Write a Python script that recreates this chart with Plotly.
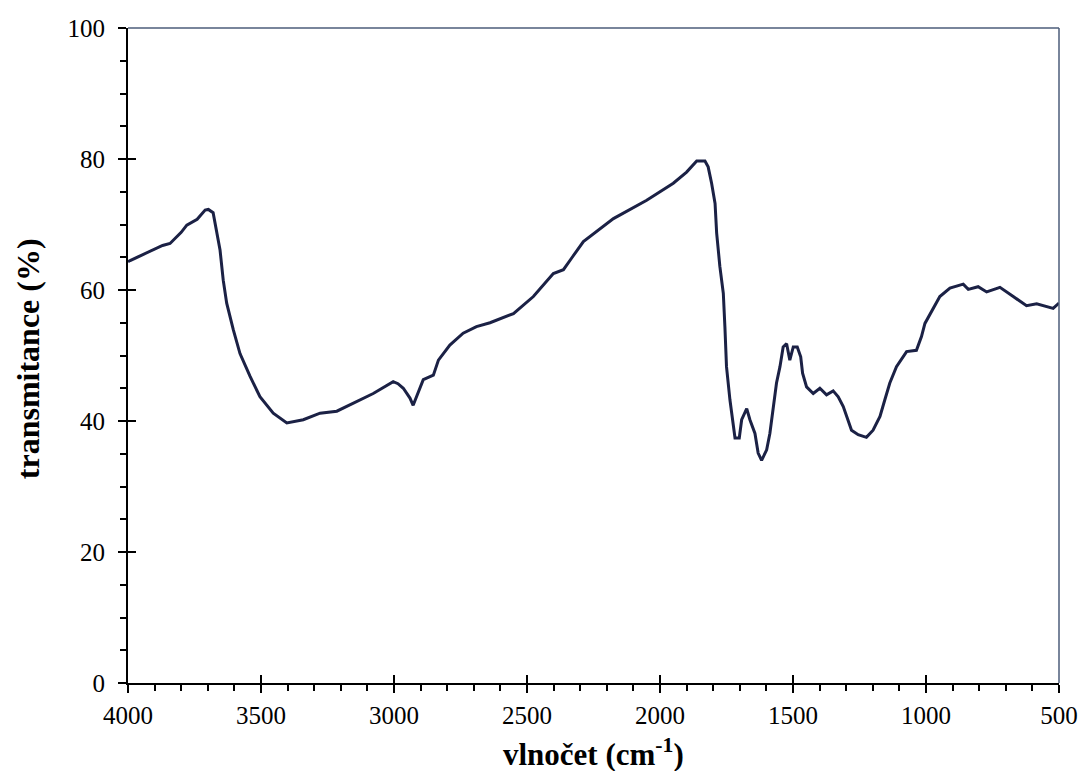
import plotly.graph_objects as go

# IR spectrum
wavenumber = [4000, 3992, 3950, 3905, 3870, 3842, 3800, 3779, 3740, 3710, 3698, 3680,
              3667, 3654, 3642, 3629, 3604, 3579, 3541, 3504, 3454, 3403, 3341, 3278,
              3215, 3153, 3078, 3003, 2985, 2965, 2940, 2928, 2909, 2890, 2852, 2833,
              2790, 2740, 2690, 2639, 2551, 2476, 2401, 2363, 2330, 2288, 2175, 2050,
              1950, 1900, 1862, 1831, 1819, 1806, 1793, 1787, 1775, 1762, 1756, 1750,
              1737, 1725, 1718, 1702, 1693, 1674, 1662, 1643, 1631, 1618, 1599, 1587,
              1574, 1562, 1549, 1537, 1524, 1512, 1499, 1484, 1471, 1464, 1449, 1424,
              1399, 1374, 1349, 1330, 1311, 1299, 1280, 1255, 1224, 1199, 1173, 1155,
              1136, 1111, 1073, 1036, 1017, 1004, 973, 948, 910, 860, 841, 804,
              772, 722, 672, 622, 584, 522, 500]
transmittance = [64.3, 64.5, 65.3, 66.1, 66.8, 67.1, 68.8, 69.9, 70.8, 72.2, 72.3, 71.8,
                 69.2, 66.1, 61.5, 58.0, 53.9, 50.3, 46.8, 43.7, 41.2, 39.7, 40.2, 41.2,
                 41.5, 42.7, 44.2, 46.0, 45.7, 45.0, 43.5, 42.4, 44.5, 46.3, 47.0, 49.3,
                 51.6, 53.4, 54.4, 55.0, 56.4, 59.0, 62.5, 63.1, 65.0, 67.4, 70.9, 73.7,
                 76.3, 78.0, 79.7, 79.7, 78.8, 76.3, 73.2, 68.7, 63.6, 59.5, 54.4, 48.3,
                 43.2, 39.6, 37.4, 37.4, 40.2, 41.9, 40.2, 38.1, 35.1, 34.0, 35.6, 38.1,
                 42.2, 45.8, 48.3, 51.3, 51.8, 49.3, 51.3, 51.3, 49.8, 47.3, 45.2, 44.2,
                 45.0, 44.0, 44.6, 43.7, 42.2, 40.7, 38.6, 37.9, 37.5, 38.6, 40.7, 43.2,
                 45.8, 48.3, 50.6, 50.8, 52.9, 54.9, 57.2, 59.0, 60.3, 60.9, 60.1, 60.5,
                 59.7, 60.4, 59.0, 57.6, 57.9, 57.2, 58.0]

x_ticks = [4000, 3500, 3000, 2500, 2000, 1500, 1000, 500]
y_ticks = [0, 20, 40, 60, 80, 100]

serif = "Liberation Serif, Times New Roman, serif"

fig = go.Figure()
fig.add_trace(go.Scatter(
    x=wavenumber, y=transmittance, mode='lines',
    line=dict(color='#1b2145', width=3),
    showlegend=False, hoverinfo='skip'
))

# invisible trace on the overlay axes so the inward half of major ticks shows
fig.add_trace(go.Scatter(x=[4000], y=[0], xaxis='x2', yaxis='y2', mode='markers',
                         marker=dict(opacity=0), showlegend=False, hoverinfo='skip'))

axis_common = dict(showgrid=False, zeroline=False, showline=True, linecolor='black',
                   linewidth=2, tickcolor='black', tickwidth=2, automargin=False,
                   tickfont=dict(family=serif, size=25, color='black'))

fig.update_layout(
    width=1082, height=771,
    margin=dict(l=128, r=23, t=28, b=88),
    paper_bgcolor='white', plot_bgcolor='white',
    xaxis=dict(range=[4000, 500], tickvals=x_ticks, ticks='outside', ticklen=8,
               ticklabelstandoff=1,
               minor=dict(dtick=100, ticks='outside', ticklen=6, tickcolor='black', tickwidth=2),
               **axis_common),
    yaxis=dict(range=[0, 100], tickvals=y_ticks, ticks='outside', ticklen=8,
               ticklabelstandoff=8,
               minor=dict(dtick=5, ticks='outside', ticklen=6, tickcolor='black', tickwidth=2),
               **axis_common),
    xaxis2=dict(range=[4000, 500], tickvals=x_ticks, ticks='inside', ticklen=8,
                tickcolor='black', tickwidth=2, showticklabels=False, showgrid=False,
                zeroline=False, overlaying='x', anchor='y2'),
    yaxis2=dict(range=[0, 100], tickvals=y_ticks, ticks='inside', ticklen=8,
                tickcolor='black', tickwidth=2, showticklabels=False, showgrid=False,
                zeroline=False, overlaying='y', anchor='x2'),
)

# axis titles
fig.add_annotation(text='<b>vlnočet (cm<sup>-1</sup>)</b>', xref='paper', yref='paper',
                   x=0.5, y=-0.106, xanchor='center', yanchor='middle', showarrow=False,
                   font=dict(family=serif, size=31, color='black'))
fig.add_annotation(text='<b>transmitance (%)</b>', xref='paper', yref='paper',
                   x=-0.108, y=0.495, xanchor='center', yanchor='middle', showarrow=False,
                   textangle=-90, font=dict(family=serif, size=32, color='black'))

# thin frame on top and right
fig.add_shape(type='line', xref='paper', yref='paper', x0=0, x1=1, y0=1, y1=1,
              line=dict(color='#4d5d7a', width=1.5))
fig.add_shape(type='line', xref='paper', yref='paper', x0=1, x1=1, y0=0, y1=1,
              line=dict(color='#4d5d7a', width=1.5))

# drop the default 8px body margin so the figure fills the window exactly
fig.write_html("out.html", config={'displayModeBar': False},
               post_script="document.body.style.margin='0';"
               "document.body.style.overflow='hidden';")
